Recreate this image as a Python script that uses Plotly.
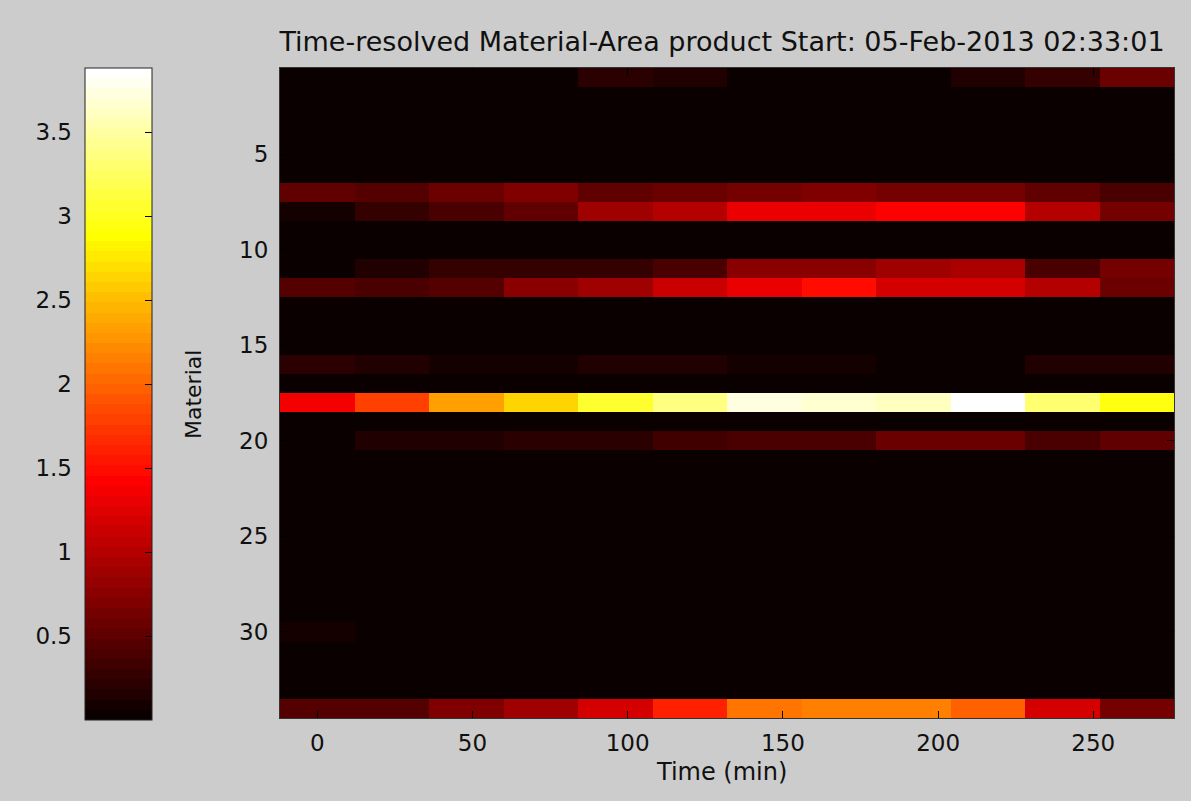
import plotly.graph_objects as go

# ---------------- data ----------------
time_min = [0, 24, 48, 72, 96, 120, 144, 168, 192, 216, 240, 264]
materials = list(range(1, 35))

# rows with visible signal (Material-Area product)
m01 = [0.02, 0.02, 0.02, 0.02, 0.20, 0.16, 0.03, 0.02, 0.02, 0.17, 0.30, 0.55]
m07 = [0.54, 0.46, 0.60, 0.71, 0.49, 0.57, 0.63, 0.69, 0.63, 0.63, 0.49, 0.40]
m08 = [0.09, 0.29, 0.40, 0.51, 0.91, 1.03, 1.28, 1.28, 1.40, 1.40, 1.00, 0.63]
m11 = [0.03, 0.17, 0.26, 0.26, 0.26, 0.37, 0.74, 0.74, 0.86, 0.97, 0.37, 0.63]
m12 = [0.46, 0.40, 0.46, 0.77, 0.89, 1.14, 1.31, 1.49, 1.20, 1.20, 1.03, 0.57]
m16 = [0.20, 0.14, 0.08, 0.08, 0.16, 0.16, 0.10, 0.10, 0.03, 0.03, 0.16, 0.16]
m18 = [1.34, 1.76, 2.31, 2.66, 3.06, 3.35, 3.75, 3.67, 3.64, 3.883, 3.33, 2.95]
m20 = [0.03, 0.13, 0.13, 0.20, 0.20, 0.33, 0.42, 0.42, 0.55, 0.60, 0.42, 0.52]
m30 = [0.12, 0.02, 0.02, 0.02, 0.02, 0.02, 0.02, 0.02, 0.02, 0.02, 0.02, 0.02]
m34 = [0.43, 0.46, 0.69, 0.91, 1.20, 1.63, 2.11, 2.16, 2.16, 1.95, 1.20, 0.63]
background_level = 0.0  # all remaining materials are at (near) zero

signal_rows = {1: m01, 7: m07, 8: m08, 11: m11, 12: m12, 16: m16,
               18: m18, 20: m20, 30: m30, 34: m34}

y_ticks = [5, 10, 15, 20, 25, 30]
x_ticks = [0, 50, 100, 150, 200, 250]
cbar_ticks = [0.5, 1, 1.5, 2, 2.5, 3, 3.5]

title_text = "Time-resolved Material-Area product Start: 05-Feb-2013 02:33:01"

# ---------------- build matrix ----------------
z = []
for m in materials:
    if m in signal_rows:
        z.append(signal_rows[m])
    else:
        z.append([background_level] * len(time_min))

zmin = min(min(r) for r in z)
zmax = max(max(r) for r in z)

# MATLAB "hot" colormap, 64 discrete levels
def hot(m=64):
    n = int(3 / 8 * m)
    cols = []
    for k in range(1, m + 1):
        r = min(k / n, 1.0)
        g = min(max((k - n) / n, 0.0), 1.0)
        b = min(max((k - 2 * n) / (m - 2 * n), 0.0), 1.0)
        cols.append("rgb(%d,%d,%d)" % (round(r * 255), round(g * 255), round(b * 255)))
    return cols

hot_cols = hot(64)
colorscale = []
for i, c in enumerate(hot_cols):
    colorscale.append([i / 64, c])
    colorscale.append([(i + 1) / 64, c])

W, H = 1191, 801
def px(x):
    return x / W
def py(y):
    return 1 - y / H

FONT = "DejaVu Sans, Verdana, sans-serif"
TXT = "#101010"
BG = "#cccccc"

fig = go.Figure()
fig.add_trace(go.Heatmap(
    x=time_min, y=materials, z=z,
    zmin=zmin, zmax=zmax,
    colorscale=colorscale,
    hoverinfo="x+y+z",
    colorbar=dict(
        x=px(85), xanchor="left", xpad=0,
        y=py(68), yanchor="top", ypad=0,
        len=652, lenmode="pixels",
        thickness=67, thicknessmode="pixels",
        outlinewidth=1, outlinecolor="#222222",
        ticks="inside", ticklen=7, tickcolor="#000000",
        tickvals=cbar_ticks, showticklabels=False,
    ),
))

# invisible helper trace so the colorbar label axis is drawn
fig.add_trace(go.Scatter(x=[None], y=[None], xaxis="x2", yaxis="y2",
                         showlegend=False, hoverinfo="skip"))

fig.update_layout(
    width=W, height=H,
    paper_bgcolor=BG, plot_bgcolor=BG,
    margin=dict(l=0, r=0, t=0, b=0),
    font=dict(family=FONT, size=23, color=TXT),
    title=dict(text=title_text, x=px(722), xanchor="center",
               y=py(42), yanchor="middle",
               font=dict(family=FONT, size=27, color=TXT)),
    xaxis=dict(
        domain=[px(280), px(1174)], anchor="y",
        range=[-12, 276], tickvals=x_ticks,
        ticks="inside", ticklen=7, tickcolor="#000000", tickwidth=1,
        showline=True, linecolor="#333333", linewidth=1, mirror="ticks",
        showgrid=False, zeroline=False,
        tickfont=dict(size=23), ticklabelstandoff=4,
    ),
    yaxis=dict(
        domain=[py(718), py(68)], anchor="x",
        range=[34.5, 0.5], tickvals=y_ticks,
        ticks="inside", ticklen=7, tickcolor="#000000", tickwidth=1,
        showline=True, linecolor="#333333", linewidth=1, mirror="ticks",
        showgrid=False, zeroline=False,
        tickfont=dict(size=23), ticklabelstandoff=6,
    ),
    xaxis2=dict(
        domain=[px(85), px(152)], anchor="y2",
        range=[0, 1], showticklabels=False, ticks="",
        showline=False, showgrid=False, zeroline=False,
    ),
    yaxis2=dict(
        domain=[py(720), py(68)], anchor="x2",
        range=[zmin, zmax], tickvals=cbar_ticks,
        ticktext=[("%g" % v) for v in cbar_ticks],
        side="left", ticks="", showline=False, showgrid=False, zeroline=False,
        tickfont=dict(size=23), ticklabelstandoff=12,
    ),
    annotations=[
        dict(text="Material", x=px(193), y=py(395), xref="paper", yref="paper",
             textangle=-90, showarrow=False, xanchor="center", yanchor="middle",
             font=dict(family=FONT, size=22, color=TXT)),
        dict(text="Time (min)", x=px(721), y=py(772), xref="paper", yref="paper",
             showarrow=False, xanchor="center", yanchor="middle",
             font=dict(family=FONT, size=24, color=TXT)),
    ],
)

fig.write_html("out.html", config={"displayModeBar": False},
               post_script="document.body.style.margin='0px';document.body.style.overflow='hidden';")
